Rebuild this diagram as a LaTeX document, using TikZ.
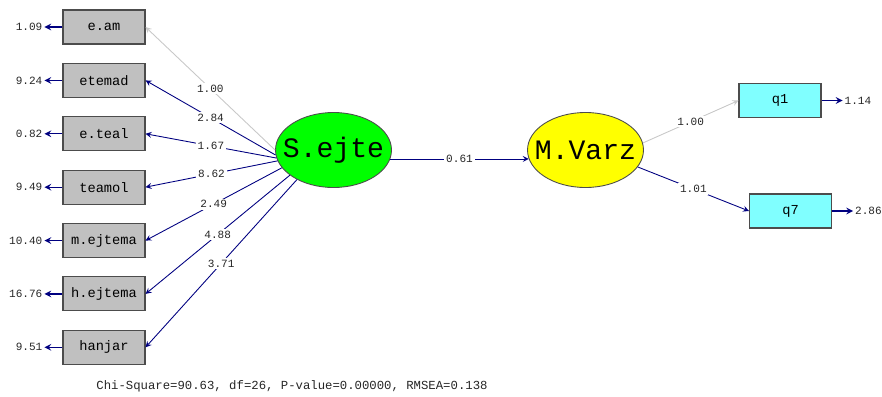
\documentclass[tikz,border=0pt]{standalone}
\usepackage{fontspec}
\setmonofont{Liberation Mono}
\usetikzlibrary{shapes.geometric,positioning}

\definecolor{pathblue}{RGB}{0,0,128}
\definecolor{boxgray}{RGB}{192,192,192}
\definecolor{fixgray}{RGB}{200,200,200}
\definecolor{latgreen}{RGB}{0,255,0}
\definecolor{latyellow}{RGB}{255,255,0}
\definecolor{obscyan}{RGB}{128,255,255}

\begin{document}
\begin{tikzpicture}[x=0.02cm,y=-0.02cm,>=stealth,node distance=1.068cm,
    obs node/.style={rectangle,draw=black!70,line width=0.6pt,minimum width=1.64cm,minimum height=0.68cm,inner sep=0pt,font=\ttfamily\fontsize{7.8}{9}\selectfont},
    lat node/.style={ellipse,draw=black!70,line width=0.5pt,minimum width=2.32cm,minimum height=1.5cm,inner ysep=0pt,inner xsep=-0.2cm,font=\ttfamily\fontsize{16}{18}\selectfont},
    est/.style={fill=white,inner sep=1pt,text=black!85,font=\ttfamily\fontsize{6.3}{7}\selectfont},
    errval/.style={inner sep=1pt,text=black!85,font=\ttfamily\fontsize{6.3}{7}\selectfont},
    load/.style={->,draw=pathblue,line width=0.5pt},
    fixed/.style={->,draw=fixgray,line width=0.5pt},
    err/.style={->,draw=pathblue,line width=0.7pt}]
    \useasboundingbox (0,0) rectangle (882,396);

    % observed variables, left
    \node[obs node,fill=boxgray] (eam) at (104,27) {e.am};
    \node[obs node,fill=boxgray] (etemad) [below of=eam] {etemad};
    \node[obs node,fill=boxgray] (eteal) [below of=etemad] {e.teal};
    \node[obs node,fill=boxgray] (teamol) [below of=eteal] {teamol};
    \node[obs node,fill=boxgray] (mejtema) [below of=teamol] {m.ejtema};
    \node[obs node,fill=boxgray] (hejtema) [below of=mejtema] {h.ejtema};
    \node[obs node,fill=boxgray] (hanjar) [below of=hejtema] {hanjar};

    % latent variables
    \node[lat node,fill=latgreen] (Sejte) at (333.5,150) {S.ejte};
    \node[lat node,fill=latyellow] (MVarz) at (585.5,150) {M.Varz};

    % observed variables, right
    \node[obs node,fill=obscyan] (q1) at (780,100.5) {q1};
    \node[obs node,fill=obscyan] (q7) at (790.5,211) {q7};

    % error variances
    \node[errval,left=0.36cm of eam] (v1) {1.09};
    \node[errval,left=0.36cm of etemad] (v2) {9.24};
    \node[errval,left=0.36cm of eteal] (v3) {0.82};
    \node[errval,left=0.36cm of teamol] (v4) {9.49};
    \node[errval,left=0.36cm of mejtema] (v5) {10.40};
    \node[errval,left=0.36cm of hejtema] (v6) {16.76};
    \node[errval,left=0.36cm of hanjar] (v7) {9.51};
    \node[errval,right=0.42cm of q1] (v8) {1.14};
    \node[errval,right=0.42cm of q7] (v9) {2.86};

    \path
        (eam) edge[err] (v1)
        (etemad) edge[err] (v2)
        (eteal) edge[err] (v3)
        (teamol) edge[err] (v4)
        (mejtema) edge[err] (v5)
        (hejtema) edge[err] (v6)
        (hanjar) edge[err] (v7)
        (q1) edge[err] (v8)
        (q7) edge[err] (v9)
    ;

    % loadings
    \path
        (Sejte.180) edge[fixed] node[est,midway] {1.00} (eam.east)
        (Sejte.185) edge[load] node[est,midway] {2.84} (etemad.east)
        (Sejte.188) edge[load] node[est,midway] {1.67} (eteal.east)
        (Sejte.191) edge[load] node[est,midway] {8.62} (teamol.east)
        (Sejte.199) edge[load] node[est,midway] {2.49} (mejtema.east)
        (Sejte.210) edge[load] node[est,midway] {4.88} (hejtema.east)
        (Sejte.219) edge[load] node[est,midway] {3.71} (hanjar.east)
        (Sejte.351) edge[load] node[est,midway] {0.61} (MVarz.189)
        (MVarz.7) edge[fixed] node[est,midway] {1.00} (q1.west)
        (MVarz.342) edge[load] node[est,midway] {1.01} (q7.west)
    ;

    \node[errval,font=\ttfamily\fontsize{7}{8}\selectfont] (fit) at (292,386) {Chi-Square=90.63, df=26, P-value=0.00000, RMSEA=0.138};

\end{tikzpicture}
\end{document}
